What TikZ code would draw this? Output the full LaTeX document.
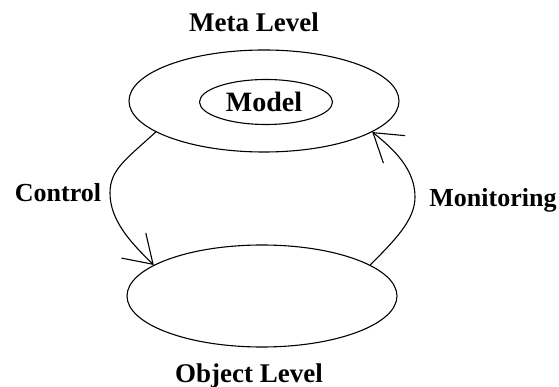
\documentclass[tikz,border=0pt]{standalone}
\usepackage{fontspec}
\setmainfont{Liberation Serif}
\usetikzlibrary{arrows.meta,shapes.geometric}

\begin{document}
\begin{tikzpicture}[
      x=1pt, y=-1pt,
      line width=1.1pt,
      level/.style={ellipse, draw, inner sep=0pt, minimum width=270pt, minimum height=102pt},
      lbl/.style={font=\fontsize{26}{26}\selectfont\bfseries, anchor=base, inner sep=0pt},
      big/.style={font=\fontsize{27}{27}\selectfont\bfseries},
      flow/.style={-{Straight Barb[length=27pt, width=35pt, line width=1.1pt]}}
    ]
    \useasboundingbox (0,0) rectangle (559,387);
    \node (meta) [level] at (264,101) {};
    \node (object) [level] at (262,296) {};
    \node (model) [ellipse, draw, inner sep=0pt, minimum width=133pt, minimum height=45pt] at (266,102) {};
    \node (modeltext) [lbl, font=\fontsize{28}{28}\selectfont\bfseries] at (264,112) {Model};
    \node (metatext) [lbl, big] at (254,32) {Meta Level};
    \node (objecttext) [lbl, big] at (249,382) {Object Level};
    \node (control) [lbl] at (58,202) {Control};
    \node (monitor) [lbl] at (493,207) {Monitoring};
    \draw [flow] (meta.196) .. controls (125,160) and (110,170) .. (110,193)
      .. controls (110,220) and (130,242) .. (object.164);
    \draw [flow] (object.16) .. controls (395,240) and (415,220) .. (415,197)
      .. controls (415,170) and (395,150) .. (meta.344);
  \end{tikzpicture}
\end{document}
